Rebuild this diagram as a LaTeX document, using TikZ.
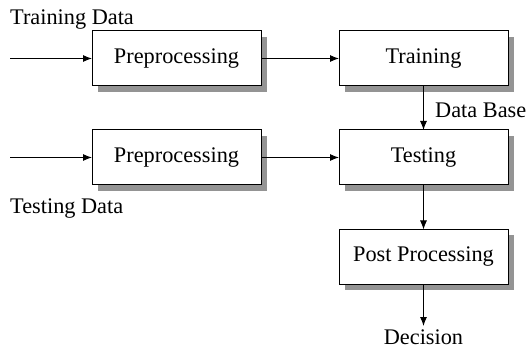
\documentclass[tikz,border=0pt]{standalone}
\usepackage{fontspec}
\setmainfont{Liberation Serif}
\usetikzlibrary{arrows.meta,shadows}

\begin{document}
\begin{tikzpicture}[x=1pt,y=-1pt,
    block/.style = {rectangle,draw=black,line width=1pt,fill=white,
                    minimum width=169pt,minimum height=55pt,outer sep=0mm,
                    font=\fontsize{22.3}{26}\selectfont,
                    drop shadow={shadow xshift=6pt,shadow yshift=-6pt,fill=black!42,opacity=1}},
    lbl/.style = {font=\fontsize{22.3}{26}\selectfont,inner sep=0pt},
    flow/.style = {line width=1pt,-{Latex[length=9pt,width=7pt]}}]
\useasboundingbox (0,0) rectangle (528,352);
\node[block] (pre1)  at (176.5,58.5)  {Preprocessing};
\node[block] (train) at (423.5,58.5)  {Training};
\node[block] (pre2)  at (176.5,157.5) {Preprocessing};
\node[block] (test)  at (423.5,157.5) {Testing};
\node[block] (post)  at (423.5,257)   {Post Processing};
\coordinate (in1) at (10,58.5);
\coordinate (in2) at (10,157.5);
\node[lbl,anchor=base west] (trdata) at (10,25)  {Training Data};
\node[lbl,anchor=base west] (tsdata) at (10,214) {Testing Data};
\node[lbl,anchor=base west] (dbase)  at (435,118) {Data Base};
\node[lbl,anchor=base] (dec) at (423.5,345) {Decision};
\draw[flow] (in1) -- (pre1);
\draw[flow] (in2) -- (pre2);
\draw[flow] (pre1) -- (train);
\draw[flow] (pre2) -- (test);
\draw[flow] (train) -- (test);
\draw[flow] (test) -- (post);
\draw[flow,shorten >=4pt] (post) -- (dec);
\end{tikzpicture}
\end{document}
